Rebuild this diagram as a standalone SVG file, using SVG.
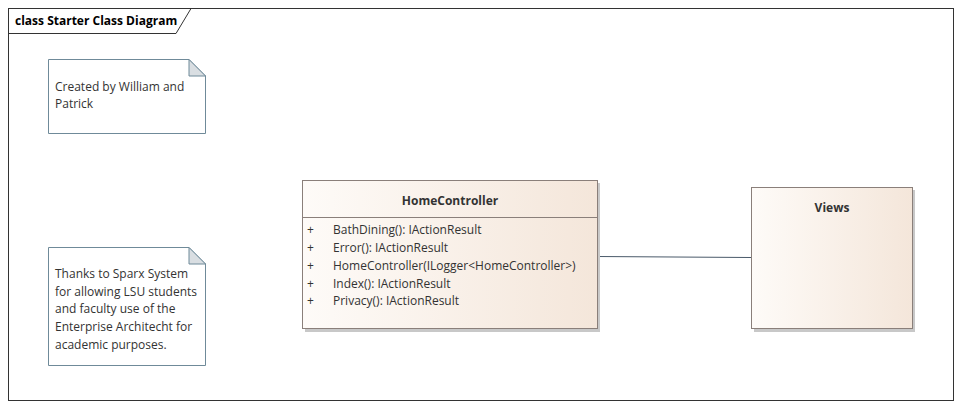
<svg xmlns="http://www.w3.org/2000/svg" width="963" height="408" viewBox="0 0 963 408">
<defs>
<linearGradient id="cls" x1="0" y1="0" x2="1" y2="0">
<stop offset="0" stop-color="#fefbf8"/>
<stop offset="1" stop-color="#f4e6da"/>
</linearGradient>
<style>
.t{font-family:"Segoe UI","Open Sans","Liberation Sans",sans-serif;font-size:12px;fill:#333}
.b{font-weight:bold}
.note{fill:#fff;stroke:#6f8a99;stroke-width:1}
.fold{fill:#d9dee2;stroke:#6f8a99;stroke-width:1}
.box{fill:url(#cls);stroke:#8a7f7a;stroke-width:1}
.sh{fill:#c8c8c8}
</style>
</defs>
<rect x="0" y="0" width="963" height="408" fill="#fff"/>
<g id="frame">
<rect x="8.5" y="8.5" width="945" height="392" fill="none" stroke="#333" stroke-width="1"/>
<path d="M8.5,33.5 H176 L191,8.5" fill="none" stroke="#333" stroke-width="1"/>
<text class="t b" x="15" y="25" style="fill:#000">class Starter Class Diagram</text>
</g>
<g id="note1">
<path class="note" d="M48.5,59.5 H189 L205.5,76 V133.5 H48.5 Z"/>
<path class="fold" d="M189,59.5 V76 H205.5 Z"/>
<text class="t" x="55" y="91">Created by William and</text>
<text class="t" x="55" y="108">Patrick</text>
</g>
<g id="note2">
<path class="note" d="M48.5,247.5 H189 L205.5,264 V365.5 H48.5 Z"/>
<path class="fold" d="M189,247.5 V264 H205.5 Z"/>
<text class="t" x="55" y="278">Thanks to Sparx System</text>
<text class="t" x="55" y="296">for allowing LSU students</text>
<text class="t" x="55" y="313">and faculty use of the</text>
<text class="t" x="55" y="331">Enterprise Architecht for</text>
<text class="t" x="55" y="349">academic purposes.</text>
</g>
<g id="connectors">
<line x1="597" y1="256.5" x2="751" y2="257.5" stroke="#4a5a6a" stroke-width="1"/>
</g>
<g id="HomeController">
<rect class="sh" x="305" y="183" width="295" height="149"/>
<rect class="box" x="302.5" y="180.5" width="295" height="148"/>
<line x1="302.5" y1="217.5" x2="597.5" y2="217.5" stroke="#8a7f7a"/>
<text class="t b" x="450" y="205" text-anchor="middle">HomeController</text>
<text class="t" x="307" y="234">+</text><text class="t" x="333" y="234">BathDining(): IActionResult</text>
<text class="t" x="307" y="252">+</text><text class="t" x="333" y="252">Error(): IActionResult</text>
<text class="t" x="307" y="270">+</text><text class="t" x="333" y="270">HomeController(ILogger&lt;HomeController&gt;)</text>
<text class="t" x="307" y="288">+</text><text class="t" x="333" y="288">Index(): IActionResult</text>
<text class="t" x="307" y="305">+</text><text class="t" x="333" y="305">Privacy(): IActionResult</text>
</g>
<g id="Views">
<rect class="sh" x="754" y="190" width="161" height="142"/>
<rect class="box" x="751.5" y="187.5" width="161" height="141"/>
<text class="t b" x="832" y="212" text-anchor="middle">Views</text>
</g>
</svg>
